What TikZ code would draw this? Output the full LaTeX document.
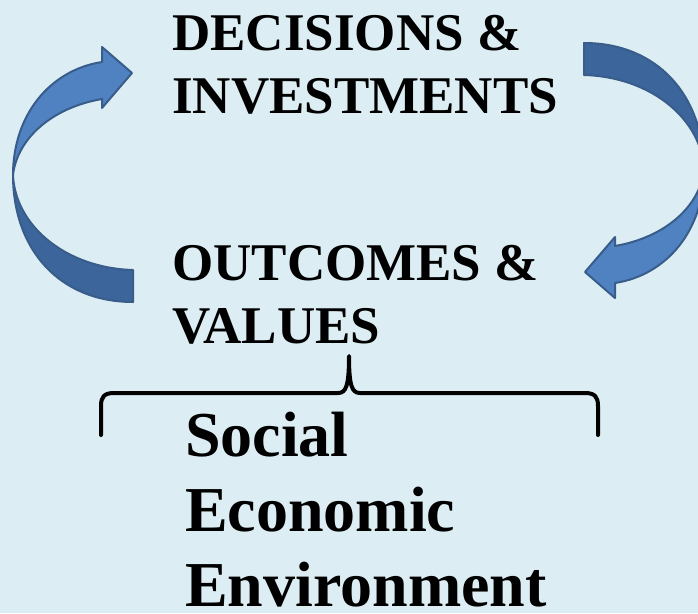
\documentclass[tikz,border=0pt]{standalone}
\usepackage{fontspec}
\setmainfont{Liberation Serif}
\usetikzlibrary{positioning}

\definecolor{bgblue}{RGB}{220,238,243}
\definecolor{bandlight}{RGB}{80,130,194}
\definecolor{banddark}{RGB}{60,101,156}
\definecolor{bandline}{RGB}{56,93,138}

% one curved block arrow (the left one); the right one is the same turned round
\newcommand{\loopband}{%
  \filldraw[band, fill=banddark] (13,175) .. controls (13,250) and (60,302) .. (133,302)
    -- (133,270) .. controls (65,268) and (15,225) .. (13,175) -- cycle;
  \filldraw[band, fill=bandlight] (13,175) .. controls (13,115) and (50,70) .. (102,62)
    -- (102,47) -- (132,73) -- (102,108) -- (102,99)
    .. controls (50,108) and (17,140) .. (13,175) -- cycle;
}

\begin{document}
\begin{tikzpicture}[
  x=1pt, y=-1pt,
  band/.style={draw=bandline, line width=2pt, line join=round},
  caps/.style={anchor=base west, inner sep=0pt, align=left, font=\fontsize{53}{63}\selectfont\bfseries},
  ctxtext/.style={anchor=base west, inner sep=0pt, align=left, font=\fontsize{64}{75}\selectfont\bfseries},
]
  \useasboundingbox (0,0) rectangle (698,613);
  \clip (0,0) rectangle (698,613);
  \fill[bgblue] (0,0) rectangle (698,613);

  \loopband
  \begin{scope}[rotate around={180:(358.5,172.5)}]
    \loopband
  \end{scope}

  % base anchor sits on the last line
  \node[caps] (dec) at (172,113) {DECISIONS \&\\INVESTMENTS};
  \node[caps] (out) at (172,343) {OUTCOMES \&\\VALUES};
  \node[ctxtext] (ctx) at (185,606) {Social\\Economic\\Environment};

  % brace over the three settings
  \draw[line width=4pt, line cap=round, line join=round]
    (101,435) -- (101,406) .. controls (101,397) and (104,393) .. (114,393)
    -- (338,393) .. controls (346,393) and (349,386) .. (349,356)
    .. controls (349,386) and (352,393) .. (360,393)
    -- (585,393) .. controls (595,393) and (598,397) .. (598,406) -- (598,435);
\end{tikzpicture}
\end{document}
